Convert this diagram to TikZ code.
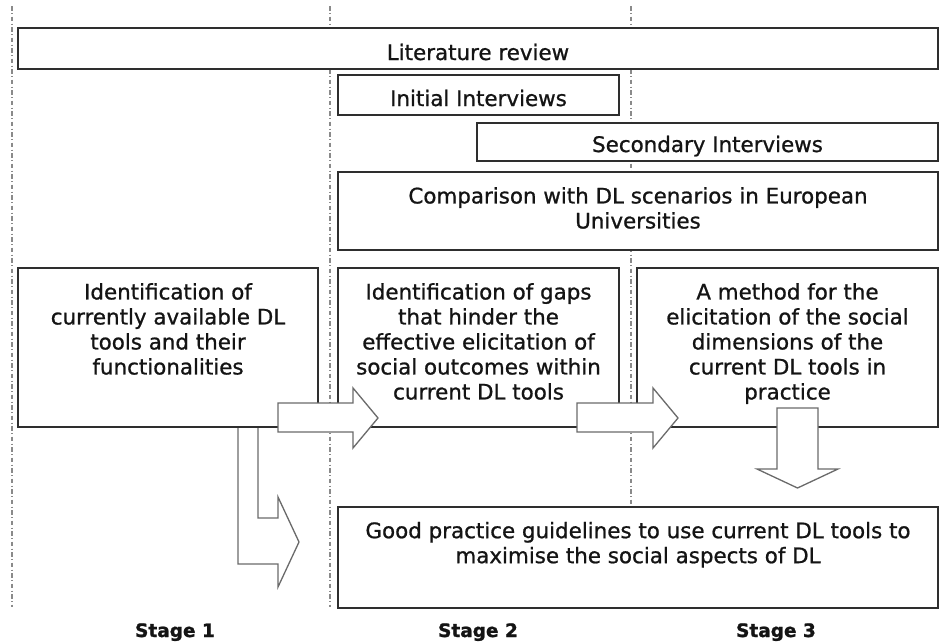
\documentclass[tikz,border=0pt]{standalone}
\usepackage{fontspec}
\setmainfont{DejaVu Sans}
\newfontfamily\bodyfont[FakeBold=0.9]{DejaVu Sans}
\newfontfamily\stagefont[FakeBold=1.2]{DejaVu Sans Bold}
\begin{document}
\begin{tikzpicture}[x=1pt,y=-1pt,
  box/.style={draw=boxc, line width=1.3pt, fill=white, inner sep=0pt},
  txt/.style={inner sep=0pt, align=center, text=txtc, font=\bodyfont\fontsize{21.4}{25}\selectfont},
  stagetxt/.style={inner sep=0pt, text=txtc, font=\stagefont\fontsize{18.5}{22}\selectfont},
  divider/.style={draw=divc, line width=1.1pt, dash pattern=on 4.5pt off 2.5pt on 1pt off 2.5pt},
  blockarrow/.style={draw=arrc, fill=white, line width=1.3pt, line join=miter}]
\definecolor{boxc}{HTML}{2E2E2E}
\definecolor{arrc}{HTML}{6A6A6A}
\definecolor{divc}{HTML}{8A8A8A}
\definecolor{txtc}{HTML}{141414}
\useasboundingbox (0,0) rectangle (939,643);
\fill[white] (0,0) rectangle (939,643);
% stage dividers
\coordinate (d1t) at (12,6);  \coordinate (d1b) at (12,607);
\coordinate (d2t) at (330,6); \coordinate (d2b) at (330,607);
\coordinate (d3t) at (631,6); \coordinate (d3b) at (631,607);
\draw[divider] (d1t) -- (d1b);
\draw[divider] (d2t) -- (d2b);
\draw[divider] (d3t) -- (d3b);
% top boxes
\node[box, minimum width=920pt, minimum height=41pt] (lit) at (478,48.5) {};
\node[box, minimum width=281pt, minimum height=40pt] (init) at (478.5,95) {};
\node[box, minimum width=461pt, minimum height=38pt] (sec) at (707.5,142) {};
\node[box, minimum width=600pt, minimum height=78pt] (comp) at (638,211) {};
% bent arrow from box 1 to good practice
\fill[white] (238,427) -- (238,564) -- (278,564) -- (278,587) -- (299,542) -- (278,497) -- (278,518) -- (258,518) -- (258,427) -- cycle;
\draw[draw=arrc, line width=1.3pt, line join=miter] (238,427) -- (238,564) -- (278,564) -- (278,587) -- (299,542) -- (278,497) -- (278,518) -- (258,518) -- (258,427);
% main boxes
\node[box, minimum width=300pt, minimum height=159pt] (b1) at (168,347.5) {};
\node[box, minimum width=281pt, minimum height=159pt] (b2) at (478.5,347.5) {};
\node[box, minimum width=301pt, minimum height=159pt] (b3) at (787.5,347.5) {};
\node[box, minimum width=600pt, minimum height=101pt] (good) at (638,557.5) {};
% block arrows
\draw[blockarrow] (278,403) -- (353,403) -- (353,388) -- (378,418) -- (353,448) -- (353,432) -- (278,432) -- cycle;
\draw[blockarrow] (577,403) -- (653,403) -- (653,388) -- (678,418) -- (653,448) -- (653,432) -- (577,432) -- cycle;
\draw[blockarrow] (777,408) -- (818,408) -- (818,469) -- (838,469) -- (797.5,488) -- (757,469) -- (777,469) -- cycle;
% texts
\node[txt, anchor=base] (tlit) at (478,60) {Literature review};
\node[txt, anchor=base] (tinit) at (478.5,106) {Initial Interviews};
\node[txt, anchor=base] (tsec) at (707.5,152) {Secondary Interviews};
\node[txt, anchor=north] (tcomp) at (638,187) {Comparison with DL scenarios in European\\Universities};
\node[txt, anchor=north] (tb1) at (168,283) {Identification of\\currently available DL\\tools and their\\functionalities};
\node[txt, anchor=north] (tb2) at (478.5,283) {Identification of gaps\\that hinder the\\effective elicitation of\\social outcomes within\\current DL tools};
\node[txt, anchor=north] (tb3) at (787.5,283) {A method for the\\elicitation of the social\\dimensions of the\\current DL tools in\\practice};
\node[txt, anchor=north] (tgood) at (638,521.7) {Good practice guidelines to use current DL tools to\\maximise the social aspects of DL};
\node[stagetxt, anchor=base] (s1) at (175,637) {Stage 1};
\node[stagetxt, anchor=base] (s2) at (478,637) {Stage 2};
\node[stagetxt, anchor=base] (s3) at (776,637) {Stage 3};
\end{tikzpicture}
\end{document}
